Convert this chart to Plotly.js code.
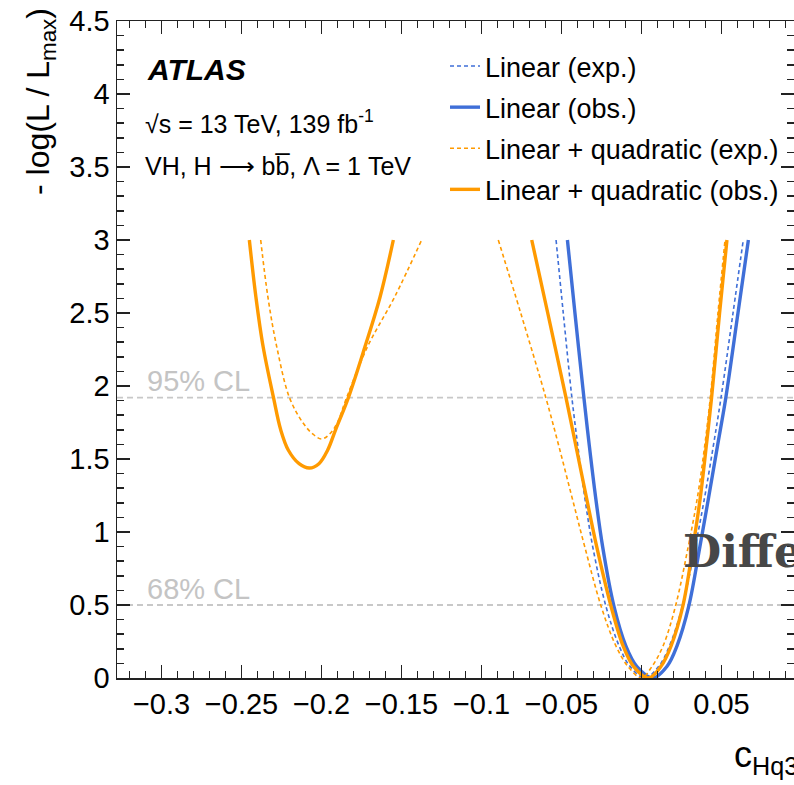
<!DOCTYPE html>
<html>
<head>
<meta charset="utf-8">
<script src="https://cdn.plot.ly/plotly-3.0.1.min.js"></script>
<style>html,body{margin:0;padding:0;background:#fff;}#chart{width:794px;height:785px;}</style>
</head>
<body>
<div id="chart"></div>
<script>
// ---- Data ----
const seriesNames = ['Linear (exp.)', 'Linear (obs.)', 'Linear + quadratic (exp.)', 'Linear + quadratic (obs.)'];

const linExpX = [-0.0534, -0.0489, -0.0435, -0.0398, -0.0355, -0.0305, -0.0222, -0.0140, -0.0072, 0.0020, 0.0108, 0.0175, 0.0255, 0.0336, 0.0395, 0.0449, 0.0497, 0.0572, 0.0636];
const linExpY = [3.0, 2.5, 1.92, 1.59, 1.24, 0.90, 0.49, 0.22, 0.08, 0.0, 0.08, 0.22, 0.49, 0.90, 1.24, 1.59, 1.92, 2.5, 3.0];

const linObsX = [-0.0463, -0.0416, -0.0360, -0.0326, -0.0287, -0.0243, -0.0172, -0.0098, -0.0030, 0.0072, 0.0160, 0.0222, 0.0295, 0.0365, 0.0420, 0.0475, 0.0527, 0.0603, 0.0668];
const linObsY = [3.0, 2.5, 1.92, 1.59, 1.24, 0.90, 0.49, 0.22, 0.08, 0.0, 0.08, 0.22, 0.49, 0.90, 1.24, 1.59, 1.92, 2.5, 3.0];

const quadExpX = [-0.2380, -0.2335, -0.2280, -0.2200, -0.2115, -0.2055, -0.1999, -0.1948, -0.1902, -0.1843, -0.1712, -0.1543, -0.1374,
  null,
  -0.0895, -0.0755, -0.0598, -0.0517, -0.0435, -0.0355, -0.0252, -0.0160, -0.0085, 0.0000, 0.0066, 0.0135, 0.0212, 0.0292, 0.0350, 0.0395, 0.0430, 0.0478, 0.0522];
const quadExpY = [3.0, 2.61, 2.27, 1.92, 1.746, 1.672, 1.637, 1.672, 1.746, 1.92, 2.27, 2.61, 3.0,
  null,
  3.0, 2.5, 1.92, 1.59, 1.24, 0.90, 0.49, 0.22, 0.08, 0.0, 0.08, 0.22, 0.49, 0.90, 1.24, 1.59, 1.92, 2.5, 3.0];

const quadObsX = [-0.2451, -0.2410, -0.2365, -0.2300, -0.2255, -0.2207, -0.2140, -0.2076, -0.2016, -0.1962, -0.1912, -0.1832, -0.1728, -0.1634, -0.1551,
  null,
  -0.0686, -0.0586, -0.0472, -0.0410, -0.0345, -0.0280, -0.0190, -0.0115, -0.0050, 0.0043, 0.0122, 0.0185, 0.0258, 0.0322, 0.0368, 0.0405, 0.0438, 0.0488, 0.0534];
const quadObsY = [3.0, 2.61, 2.27, 1.92, 1.70, 1.56, 1.468, 1.438, 1.468, 1.56, 1.70, 1.92, 2.27, 2.61, 3.0,
  null,
  3.0, 2.5, 1.92, 1.59, 1.24, 0.90, 0.49, 0.22, 0.08, 0.0, 0.08, 0.22, 0.49, 0.90, 1.24, 1.59, 1.92, 2.5, 3.0];

const clLevels = [1.92, 0.5];
const clLabels = ['95% CL', '68% CL'];

// ---- Styling ----
const BLUE = '#3f6fd8';
const ORANGE = '#ff9a00';
const FONT = 'Liberation Sans, Arial, Helvetica, sans-serif';

const W = 794, H = 785;
const M = {l: 117, r: 0, t: 21, b: 107};
const plotW = W - M.l - M.r, plotH = H - M.t - M.b;
const px = v => (v - M.l) / plotW;          // page x pixel -> paper
const py = v => (H - M.b - v) / plotH;       // page y pixel -> paper

const traces = [
  {x: linExpX, y: linExpY, name: seriesNames[0], legendgroup: 'a', mode: 'lines',
   line: {color: BLUE, width: 1.6, dash: '4px,3px', shape: 'spline'}},
  {x: linObsX, y: linObsY, name: seriesNames[1], legendgroup: 'b', mode: 'lines',
   line: {color: BLUE, width: 3.4, shape: 'spline'}},
  {x: quadExpX, y: quadExpY, name: seriesNames[2], legendgroup: 'c', mode: 'lines', connectgaps: false,
   line: {color: ORANGE, width: 1.6, dash: '4px,3px', shape: 'spline'}},
  {x: quadObsX, y: quadObsY, name: seriesNames[3], legendgroup: 'd', mode: 'lines', connectgaps: false,
   line: {color: ORANGE, width: 3.4, shape: 'spline'}}
];

const shapes = clLevels.map(v => ({
  type: 'line', xref: 'paper', x0: 0, x1: 1, yref: 'y', y0: v, y1: v, layer: 'below',
  line: {color: '#c8c8c8', width: 1.8, dash: '6px,4px'}
}));

const annotations = [
  {text: '<b><i>ATLAS</i></b>', x: px(145), y: py(69), xanchor: 'left', yanchor: 'middle',
   font: {family: FONT, size: 30, color: '#000'}},
  {text: '\u221As = 13 TeV, 139 fb<sup>-1</sup>', x: px(143), y: py(122), xanchor: 'left', yanchor: 'middle',
   font: {family: FONT, size: 25, color: '#000'}},
  {text: 'VH, H \u27F6 bb\u0305, \u039B = 1 TeV', x: px(143), y: py(166), xanchor: 'left', yanchor: 'middle',
   font: {family: FONT, size: 25, color: '#000'}},
  {text: clLabels[0], x: px(145), y: py(381), xanchor: 'left', yanchor: 'middle',
   font: {family: FONT, size: 29, color: '#c4c4c4'}},
  {text: clLabels[1], x: px(145), y: py(589), xanchor: 'left', yanchor: 'middle',
   font: {family: FONT, size: 29, color: '#c4c4c4'}},
  {text: '- log(L / L<sub>max</sub>)', textangle: -90, x: px(40), y: py(102), xanchor: 'center', yanchor: 'middle',
   font: {family: FONT, size: 32, color: '#000'}},
  {text: 'c<sub>Hq3</sub>', x: px(732), y: py(757), xanchor: 'left', yanchor: 'middle',
   font: {family: FONT, size: 36, color: '#000'}},
  {text: '<b>Differential</b>', x: px(681), y: py(551), xanchor: 'left', yanchor: 'middle',
   font: {family: 'DejaVu Serif, serif', size: 44, color: '#474747'}}
].map(a => Object.assign({xref: 'paper', yref: 'paper', showarrow: false}, a));

const axisCommon = {
  showgrid: false, zeroline: false, showline: true, linecolor: '#222', linewidth: 1.5,
  mirror: 'ticks', ticks: 'inside', ticklen: 13, tickwidth: 1.5, tickcolor: '#222',
  tickfont: {family: FONT, size: 29, color: '#000'}
};

const layout = {
  width: W, height: H, margin: M,
  paper_bgcolor: '#fff', plot_bgcolor: '#fff',
  xaxis: Object.assign({}, axisCommon, {
    range: [(M.l - 641.5) / 1600, (W - 641.5) / 1600], tick0: 0, dtick: 0.05,
    minor: {dtick: 0.01, ticks: 'inside', ticklen: 7, tickwidth: 1.5, tickcolor: '#222'}
  }),
  yaxis: Object.assign({}, axisCommon, {
    range: [0, 4.5], tick0: 0, dtick: 0.5,
    minor: {dtick: 0.1, ticks: 'inside', ticklen: 7, tickwidth: 1.5, tickcolor: '#222'}
  }),
  showlegend: true,
  legend: {x: px(445), y: py(42), xanchor: 'left', yanchor: 'top', bgcolor: 'rgba(0,0,0,0)',
           font: {family: FONT, size: 27, color: '#000'}, tracegroupgap: 3, traceorder: 'grouped'},
  shapes: shapes,
  annotations: annotations
};

Plotly.newPlot('chart', traces, layout, {displayModeBar: false, staticPlot: true});
</script>
</body>
</html>
